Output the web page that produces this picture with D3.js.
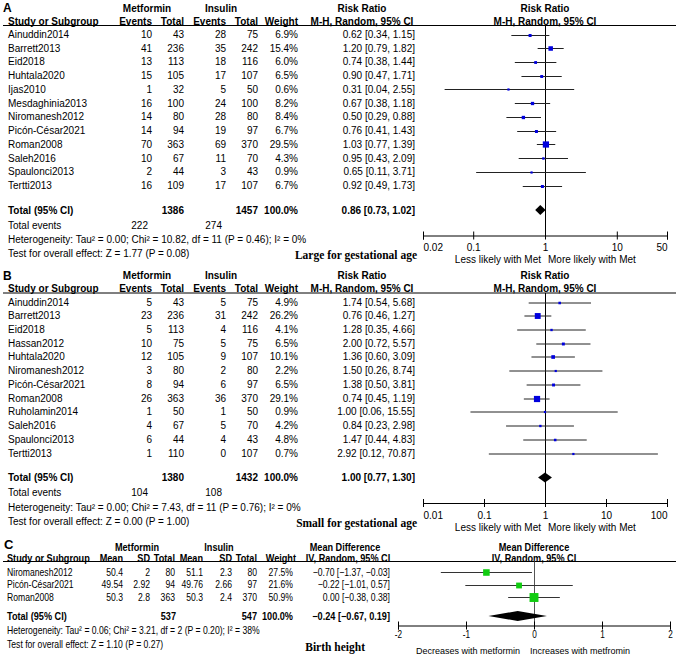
<!DOCTYPE html>
<html><head><meta charset="utf-8">
<script src="https://cdn.jsdelivr.net/npm/d3@7"></script>
<style>
body{margin:0;background:#fff;}
svg text{font-family:"Liberation Sans",Arial,sans-serif;font-size:10px;fill:#000;}
svg text.b{font-weight:bold;}
svg text.serif{font-family:"Liberation Serif","Times New Roman",serif;font-weight:bold;font-size:11.5px;}
svg text.lbl{font-weight:bold;font-size:12px;}
svg g.c text{font-size:10.5px;}
svg g.c text.serif{font-family:"Liberation Serif","Times New Roman",serif;font-size:11.5px;}
svg g.c text.lbl{font-size:13px;}
svg g.c text.leg{font-size:9px;}
svg g.c .tick text{font-size:10px;}
</style></head><body>
<svg id="chart" width="676" height="655"></svg>
<script>
// ---------- Panel A: Large for gestational age ----------
const studiesA = ["Ainuddin2014","Barrett2013","Eid2018","Huhtala2020","Ijas2010","Mesdaghinia2013","Niromanesh2012","Picón-César2021","Roman2008","Saleh2016","Spaulonci2013","Tertti2013"];
const metEventsA = [10,41,13,15,1,16,14,14,70,10,2,16];
const metTotalA  = [43,236,113,105,32,100,80,94,363,67,44,109];
const insEventsA = [28,35,18,17,5,24,28,19,69,11,3,17];
const insTotalA  = [75,242,116,107,50,100,80,97,370,70,43,107];
const weightA = [6.9,15.4,6.0,6.5,0.6,8.2,8.4,6.7,29.5,4.3,0.9,6.7];
const rrA = [0.62,1.20,0.74,0.90,0.31,0.67,0.50,0.76,1.03,0.95,0.65,0.92];
const loA = [0.34,0.79,0.38,0.47,0.04,0.38,0.29,0.41,0.77,0.43,0.11,0.49];
const hiA = [1.15,1.82,1.44,1.71,2.55,1.18,0.88,1.43,1.39,2.09,3.71,1.73];
const totalsA = [1386,1457];
const totalEventsA = [222,274];
const pooledA = [0.86,0.73,1.02];
const hetA = "Heterogeneity: Tau² = 0.00; Chi² = 10.82, df = 11 (P = 0.46); I² = 0%";
const testA = "Test for overall effect: Z = 1.77 (P = 0.08)";
const tickValsA = [0.02,0.1,1,10,50];
const tickLabsA = ["0.02","0.1","1","10","50"];

// ---------- Panel B: Small for gestational age ----------
const studiesB = ["Ainuddin2014","Barrett2013","Eid2018","Hassan2012","Huhtala2020","Niromanesh2012","Picón-César2021","Roman2008","Ruholamin2014","Saleh2016","Spaulonci2013","Tertti2013"];
const metEventsB = [5,23,5,10,12,3,8,26,1,4,6,1];
const metTotalB  = [43,236,113,75,105,80,94,363,50,67,44,110];
const insEventsB = [5,31,4,5,9,2,6,36,1,5,4,0];
const insTotalB  = [75,242,116,75,107,80,97,370,50,70,43,107];
const weightB = [4.9,26.2,4.1,6.5,10.1,2.2,6.5,29.1,0.9,4.2,4.8,0.7];
const rrB = [1.74,0.76,1.28,2.00,1.36,1.50,1.38,0.74,1.00,0.84,1.47,2.92];
const loB = [0.54,0.46,0.35,0.72,0.60,0.26,0.50,0.45,0.06,0.23,0.44,0.12];
const hiB = [5.68,1.27,4.66,5.57,3.09,8.74,3.81,1.19,15.55,2.98,4.83,70.87];
const totalsB = [1380,1432];
const totalEventsB = [104,108];
const pooledB = [1.00,0.77,1.30];
const hetB = "Heterogeneity: Tau² = 0.00; Chi² = 7.43, df = 11 (P = 0.76); I² = 0%";
const testB = "Test for overall effect: Z = 0.00 (P = 1.00)";
const tickValsB = [0.01,0.1,1,10,100];
const tickLabsB = ["0.01","0.1","1","10","100"];

// ---------- Panel C: Birth height ----------
const studiesC = ["Niromanesh2012","Picón-César2021","Roman2008"];
const metMeanC = [50.4,49.54,50.3];
const metSdC   = [2,2.92,2.8];
const metTotalC = [80,94,363];
const insMeanC = [51.1,49.76,50.3];
const insSdC   = [2.3,2.66,2.4];
const insTotalC = [80,97,370];
const weightC = [27.5,21.6,50.9];
const mdC = [-0.70,-0.22,0.00];
const loC = [-1.37,-1.01,-0.38];
const hiC = [-0.03,0.57,0.38];
const totalsC = [537,547];
const pooledC = [-0.24,-0.67,0.19];
const hetC = "Heterogeneity: Tau² = 0.06; Chi² = 3.21, df = 2 (P = 0.20); I² = 38%";
const testC = "Test for overall effect: Z = 1.10 (P = 0.27)";
const tickValsC = [-2,-1,0,1,2];

const svg = d3.select("#chart");
const f2 = d3.format(".2f"), f1 = d3.format(".1f");
const ciTxt = (e,l,h) => `${f2(e)} [${f2(l)}, ${f2(h)}]`;

function T(g, s, x, y, anchor, cls){
  return g.append("text").attr("x",x).attr("y",y).attr("dy","0.35em")
    .attr("text-anchor",anchor||"start").attr("class",cls||null).text(s);
}

function binaryPanel(d, off){
  const g = svg.append("g").attr("transform",`translate(0,${off})`);
  const n = d.studies.length;
  const y = d3.scaleLinear().domain([0,n-1]).range([34.5,185.5]);
  const x = d3.scaleLog().domain([d.ticks[0], d.ticks[d.ticks.length-1]]).range([423,667]);
  const ul = 25.5, axisY = 235, totY = 210;
  T(g,d.label,3,8,"start","lbl");
  T(g,"Metformin",147,8,"middle","b");
  T(g,"Insulin",221,8,"middle","b");
  T(g,"Risk Ratio",362,8,"middle","b");
  T(g,"Risk Ratio",545,8,"middle","b");
  T(g,"Study or Subgroup",8,21,"start","b");
  T(g,"Events",152,21,"end","b");
  T(g,"Total",184,21,"end","b");
  T(g,"Events",226,21,"end","b");
  T(g,"Total",258,21,"end","b");
  T(g,"Weight",298,21,"end","b");
  T(g,"M-H, Random, 95% CI",362,21,"middle","b");
  T(g,"M-H, Random, 95% CI",545,21,"middle","b");
  g.append("line").attr("x1",3).attr("x2",676).attr("y1",ul).attr("y2",ul).attr("stroke","#000");
  d.studies.forEach((s,i)=>{
    const yy=y(i);
    T(g,s,8,yy);
    T(g,d.me[i],152,yy,"end");
    T(g,d.mt[i],184,yy,"end");
    T(g,d.ie[i],226,yy,"end");
    T(g,d.it[i],258,yy,"end");
    T(g,f1(d.w[i])+"%",298,yy,"end");
    T(g,ciTxt(d.rr[i],d.lo[i],d.hi[i]),415,yy,"end");
  });
  T(g,"Total (95% CI)",8,totY,"start","b");
  T(g,d.tot[0],184,totY,"end","b");
  T(g,d.tot[1],258,totY,"end","b");
  T(g,"100.0%",298,totY,"end","b");
  T(g,ciTxt(d.pooled[0],d.pooled[1],d.pooled[2]),415,totY,"end","b");
  T(g,"Total events",8,225);
  T(g,d.ev[0],148,225,"end");
  T(g,d.ev[1],222,225,"end");
  T(g,d.het,8,239.5);
  T(g,d.test,8,253.5);
  T(g,d.title,417,255,"end","serif");
  // null line
  g.append("line").attr("x1",Math.round(x(1))+0.5).attr("x2",Math.round(x(1))+0.5)
    .attr("y1",ul).attr("y2",axisY).attr("stroke","#000");
  // CIs
  g.selectAll("line.ci").data(d.studies).join("line").attr("class","ci")
    .attr("x1",(s,i)=>x(d.lo[i])).attr("x2",(s,i)=>x(d.hi[i]))
    .attr("y1",(s,i)=>Math.round(y(i))+0.5).attr("y2",(s,i)=>Math.round(y(i))+0.5)
    .attr("stroke","#222").attr("stroke-width",1);
  g.selectAll("rect.sq").data(d.studies).join("rect").attr("class","sq")
    .each(function(s,i){
      const sz=Math.max(2.2,1.15*Math.sqrt(d.w[i]));
      d3.select(this).attr("x",x(d.rr[i])-sz/2).attr("y",Math.round(y(i))+0.5-sz/2)
        .attr("width",sz).attr("height",sz);
    }).attr("fill","#0000dd");
  const p=d.pooled;
  g.append("path").attr("d",`M${x(p[1])},${totY}L${x(p[0])},${totY-5}L${x(p[2])},${totY}L${x(p[0])},${totY+5}Z`).attr("fill","#000");
  const ax = g.append("g").attr("transform",`translate(0,${axisY+0.5})`)
    .call(d3.axisBottom(x).tickValues(d.ticks).tickFormat((v,i)=>d.tickLabs[i]).tickSizeOuter(0).tickSize(4).tickPadding(4.5));
  ax.select(".domain").attr("stroke","#000");
  ax.selectAll(".tick line").attr("y1",-4).attr("y2",4).attr("stroke","#000");
  ax.selectAll(".tick text").attr("text-anchor",(v,i)=> i===0?"start":(i===d.ticks.length-1?"end":"middle"));
  ax.attr("font-size",null).attr("font-family",null);
  T(g,"Less likely with Met",541,259.5,"end");
  T(g,"More likely with Met",548,259.5,"start");
}

binaryPanel({label:"A",studies:studiesA,me:metEventsA,mt:metTotalA,ie:insEventsA,it:insTotalA,w:weightA,
  rr:rrA,lo:loA,hi:hiA,tot:totalsA,ev:totalEventsA,pooled:pooledA,het:hetA,test:testA,
  ticks:tickValsA,tickLabs:tickLabsA,title:"Large for gestational age"},0);
binaryPanel({label:"B",studies:studiesB,me:metEventsB,mt:metTotalB,ie:insEventsB,it:insTotalB,w:weightB,
  rr:rrB,lo:loB,hi:hiB,tot:totalsB,ev:totalEventsB,pooled:pooledB,het:hetB,test:testB,
  ticks:tickValsB,tickLabs:tickLabsB,title:"Small for gestational age"},267.5);

// Panel C (condensed text)
(function(){
  const g = svg.append("g").attr("class","c");
  const y = d3.scaleLinear().domain([0,studiesC.length-1]).range([572,597]);
  const x = d3.scaleLinear().domain([-2,2]).range([398,670]);
  const ul=561.5, axisY=625, totY=616;
  T(g,"C",4,544,"start","lbl");
  T(g,"Metformin",137,547,"middle","b");
  T(g,"Insulin",219,547,"middle","b");
  T(g,"Mean Difference",345,547,"middle","b");
  T(g,"Mean Difference",534,547,"middle","b");
  T(g,"Study or Subgroup",7,558,"start","b");
  [["Mean",123],["SD",150],["Total",175],["Mean",203],["SD",232],["Total",257],["Weight",296]].forEach(h=>T(g,h[0],h[1],558,"end","b"));
  T(g,"IV, Random, 95% CI",348,558,"middle","b");
  T(g,"IV, Random, 95% CI",534,558,"middle","b");
  g.append("line").attr("x1",3).attr("x2",676).attr("y1",ul).attr("y2",ul).attr("stroke","#000");
  studiesC.forEach((s,i)=>{
    const yy=y(i);
    T(g,s,7,yy);
    T(g,String(metMeanC[i]),123,yy,"end");
    T(g,String(metSdC[i]),150,yy,"end");
    T(g,metTotalC[i],175,yy,"end");
    T(g,String(insMeanC[i]),203,yy,"end");
    T(g,String(insSdC[i]),232,yy,"end");
    T(g,insTotalC[i],257,yy,"end");
    T(g,f1(weightC[i])+"%",293,yy,"end");
    T(g,ciTxt(mdC[i],loC[i],hiC[i]),390,yy,"end");
  });
  T(g,"Total (95% CI)",7,totY,"start","b");
  T(g,totalsC[0],176,totY,"end","b");
  T(g,totalsC[1],257,totY,"end","b");
  T(g,"100.0%",293,totY,"end","b");
  T(g,ciTxt(pooledC[0],pooledC[1],pooledC[2]),390,totY,"end","b");
  T(g,hetC,7,630);
  T(g,testC,7,644);
  g.append("line").attr("x1",Math.round(x(0))+0.5).attr("x2",Math.round(x(0))+0.5)
    .attr("y1",ul).attr("y2",axisY).attr("stroke","#555");
  g.selectAll("line.ci").data(studiesC).join("line").attr("class","ci")
    .attr("x1",(s,i)=>x(loC[i])).attr("x2",(s,i)=>x(hiC[i]))
    .attr("y1",(s,i)=>Math.round(y(i))+0.5).attr("y2",(s,i)=>Math.round(y(i))+0.5)
    .attr("stroke","#333");
  g.selectAll("rect.sq").data(studiesC).join("rect").attr("class","sq")
    .each(function(s,i){
      const sz=1.25*Math.sqrt(weightC[i]);
      d3.select(this).attr("x",x(mdC[i])-sz/2).attr("y",Math.round(y(i))+0.5-sz/2)
        .attr("width",sz).attr("height",sz);
    }).attr("fill","#11cc11");
  const p=pooledC;
  g.append("path").attr("d",`M${x(p[1])},${totY}L${x(p[0])},${totY-5}L${x(p[2])},${totY}L${x(p[0])},${totY+5}Z`).attr("fill","#000");
  const ax = g.append("g").attr("transform",`translate(0,${axisY+0.5})`)
    .call(d3.axisBottom(x).tickValues(tickValsC).tickFormat(v=>v<0?"-"+Math.abs(v):String(v)).tickSizeOuter(0).tickSize(4).tickPadding(1));
  ax.select(".domain").attr("stroke","#000");
  ax.selectAll(".tick line").attr("y1",-4).attr("y2",4).attr("stroke","#000");
  ax.attr("font-size",null).attr("font-family",null);
  // condense sans table text in panel C
  g.selectAll("text").filter(function(){ const c=this.getAttribute("class")||""; return c.indexOf("serif")<0 && c.indexOf("lbl")<0; })
    .each(function(){
      const bold=(this.getAttribute("class")||"").indexOf("b")===0;
      const w=this.getComputedTextLength();
      this.setAttribute("lengthAdjust","spacingAndGlyphs");
      this.setAttribute("textLength", w*(bold?0.87:0.82));
    });
  T(g,"Decreases with metformin",520,650.5,"end","leg");
  T(g,"Increases with metfromin",530,650.5,"start","leg");
  T(g,"Birth height",365,647,"end","serif");
})();
</script>
</body></html>
